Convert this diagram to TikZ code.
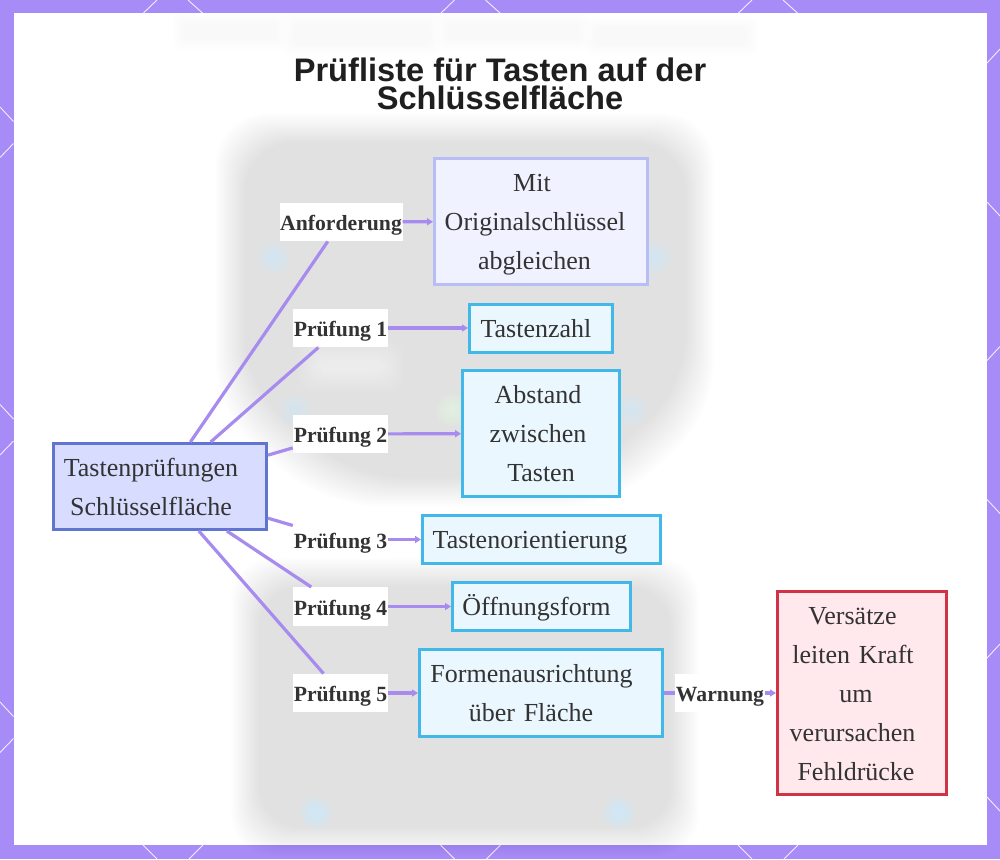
\documentclass[tikz,border=0pt]{standalone}
\usepackage{fontspec}
\setmainfont{Liberation Serif}
\newfontfamily\titlefont{Liberation Sans}
\usetikzlibrary{arrows.meta}
\definecolor{frameC}{HTML}{A78BF6}
\definecolor{edgeC}{HTML}{A78BEF}
\definecolor{inkC}{HTML}{333333}
\definecolor{hubF}{HTML}{D8DCFF}
\definecolor{hubD}{HTML}{5F75CF}
\definecolor{reqF}{HTML}{F0F2FF}
\definecolor{reqD}{HTML}{B8BEF5}
\definecolor{chkF}{HTML}{EBF7FF}
\definecolor{chkD}{HTML}{42B8E8}
\definecolor{warnF}{HTML}{FFE9EC}
\definecolor{warnD}{HTML}{CF3345}
\definecolor{spotC}{HTML}{CDEBFF}
\newcommand{\Sh}[1]{\hspace*{#1pt}\rule[-10.5pt]{0pt}{39pt}}
\newcommand{\Lb}{\rule[-7.5pt]{0pt}{32pt}}
% blurred soft shape: #1 colour, #2 opacity per layer, #3 corner radius, #4-#7 x0 y0 x1 y1
\newcommand{\softbox}[7]{%
  \foreach \d in {-14,-12,-10,-8,-6,-4,-2,0,2,4,6,8,10,12,14}{
    \fill[#1,opacity=#2,rounded corners=#3pt] (#4+\d,#5+\d) rectangle (#6-\d,#7-\d);
  }}
\newcommand{\softbar}[4]{%
  \foreach \d in {-5,-3,-1,1,3,5}{
    \fill[black,opacity=.0045,rounded corners=6pt] (#1+\d,#2+\d) rectangle (#3-\d,#4-\d);
  }}
\newcommand{\softspot}[4]{%
  \foreach \d in {4,7,10,13,16}{
    \fill[#1,opacity=#2] (#3,#4) circle (\d pt);
  }}
\tikzset{
  x=1pt,y=-1pt,
  boxtext/.style={draw,line width=3pt,inner xsep=0pt,inner ysep=0pt,align=center,text=inkC,
    font=\fontsize{26}{39}\selectfont},
  hubbox/.style={boxtext,fill=hubF,draw=hubD},
  reqbox/.style={boxtext,fill=reqF,draw=reqD},
  chkbox/.style={boxtext,fill=chkF,draw=chkD},
  warnbox/.style={boxtext,fill=warnF,draw=warnD},
  edgelabel/.style={fill=white,inner sep=0pt,text=inkC,minimum height=38.5pt,
    font=\fontsize{21.7}{24}\selectfont\bfseries},
  trunk/.style={draw=edgeC,line width=3.2pt},
  branch/.style={draw=edgeC,line width=3.2pt,-{Triangle[length=6pt,width=7pt]}},
  tile/.style={draw=white,line width=0.9pt,opacity=.85},
}
\begin{document}
\begin{tikzpicture}
\useasboundingbox (0,0) rectangle (1000,859);
% frame
\fill[frameC] (0,0) rectangle (1000,859);
\foreach \c in {173,470.5,768}{
  \draw[tile] (\c-30,13.5) -- (\c-16,0);
  \draw[tile] (\c+15,0) -- (\c+30,13.5);
  \draw[tile] (\c-30,845) -- (\c-16,859);
  \draw[tile] (\c+30,845) -- (\c+16,859);
}
\foreach \c in {132.5,430,727.5}{
  \draw[tile] (0,\c-25.5) -- (13.5,\c-11);
  \draw[tile] (13.5,\c+11) -- (0,\c+25);
  \draw[tile] (987,\c-69.5) -- (1000,\c-83.5);
  \draw[tile] (987,\c+69.5) -- (1000,\c+83.5);
}
\fill[white] (13.5,13.5) rectangle (986.5,845);
% blurred photograph behind the diagram
\softbar{178}{18}{282}{45}
\softbar{288}{18}{436}{50}
\softbar{442}{18}{585}{45}
\softbar{590}{22}{752}{50}
\foreach \d in {-14,-12,-10,-8,-6,-4,-2,0,2,4,6,8,10,12,14}{
  \fill[black,opacity=.0075,rounded corners=50pt]
    (230+\d,128+\d) -- (700-\d,128+\d) -- (700-\d,400-\d) -- (600-\d,492-\d)
    -- (340+\d,492-\d) -- (230+\d,400-\d) -- cycle;
}
\softbox{black}{.0075}{42}{245}{572}{685}{842}
\softbox{white}{.012}{40}{262}{165}{668}{400}
\softbox{white}{.025}{40}{292}{712}{392}{800}
\softbox{white}{.015}{40}{560}{712}{650}{800}
\softbox{white}{.05}{14}{312}{355}{390}{378}
\softbox{white}{.02}{10}{330}{178}{372}{205}
\softspot{spotC}{.16}{274}{258}
\softspot{spotC}{.16}{655}{258}
\softspot{spotC}{.12}{295}{410}
\softspot{spotC}{.14}{632}{410}
\softspot{spotC}{.22}{316}{813}
\softspot{spotC}{.22}{619}{813}
\softspot{green!12}{.14}{452}{410}
% title
\node[text=black!88,align=center,font=\fontsize{32.6}{28}\selectfont\titlefont\bfseries] (title) at (500,84)
  {Prüfliste für Tasten auf der\\Schlüsselfläche};
% boxes
\node[hubbox,text width=213pt,minimum height=86pt] (hub) at (160,486.5)
  {\Sh{-18}Tastenprüfungen\\\Sh{-18}Schlüsselfläche};
\node[reqbox,text width=213pt,minimum height=126pt] (req) at (541,221.5)
  {\Sh{-18}Mit\\\Sh{-12}Originalschlüssel\\\Sh{-13}abgleichen};
\node[chkbox,text width=143pt,minimum height=48pt] (c1) at (541,328)
  {\Sh{-10}Tastenzahl};
\node[chkbox,text width=157pt,minimum height=126pt] (c2) at (541,433.5)
  {\Sh{-6}Abstand\\\Sh{-6}zwischen\\\Sh{0}Tasten};
\node[chkbox,text width=238pt,minimum height=48pt] (c3) at (541.5,539.5)
  {\Sh{-23}Tastenorientierung};
\node[chkbox,text width=178pt,minimum height=48pt] (c4) at (541.5,606.5)
  {\Sh{-10}Öffnungsform};
\node[chkbox,text width=243pt,minimum height=87pt] (c5) at (541,693)
  {\Sh{-19}Formenausrichtung\\\Sh{-20}über Fläche};
\node[warnbox,text width=169pt,minimum height=203pt] (warn) at (862,693)
  {\Sh{-19}Versätze\\\Sh{-18}leiten Kraft\\\Sh{-12}um\\\Sh{-19}verursachen\\\Sh{-12}Fehldrücke};
% edge labels
\node[edgelabel,minimum width=123pt] (lreq) at (341,222) {\Lb Anforderung};
\node[edgelabel,minimum width=95pt] (l1) at (340.5,328) {\Lb Prüfung 1};
\node[edgelabel,minimum width=95pt] (l2) at (340.5,434) {\Lb Prüfung 2};
\node[edgelabel,minimum width=95pt] (l3) at (340.5,539.5) {\Lb Prüfung 3};
\node[edgelabel,minimum width=95pt] (l4) at (340.5,606.5) {\Lb Prüfung 4};
\node[edgelabel,minimum width=95pt] (l5) at (340.5,693) {\Lb Prüfung 5};
\node[edgelabel,minimum width=90pt] (lw) at (720,693) {\Lb Warnung};
% connectors
\draw[trunk] (hub) -- (lreq);
\draw[trunk] (hub) -- (l1);
\draw[trunk] (hub) -- (l2);
\draw[trunk] (hub) -- (l3);
\draw[trunk] (hub) -- (l4);
\draw[trunk] (hub) -- (l5);
\draw[branch] (lreq) -- (req);
\draw[branch] (l1) -- (c1);
\draw[branch] (l2) -- (c2);
\draw[branch] (l3) -- (c3);
\draw[branch] (l4) -- (c4);
\draw[branch] (l5) -- (c5);
\draw[trunk] (c5) -- (lw);
\draw[branch] (lw) -- (warn);
\end{tikzpicture}
\end{document}
